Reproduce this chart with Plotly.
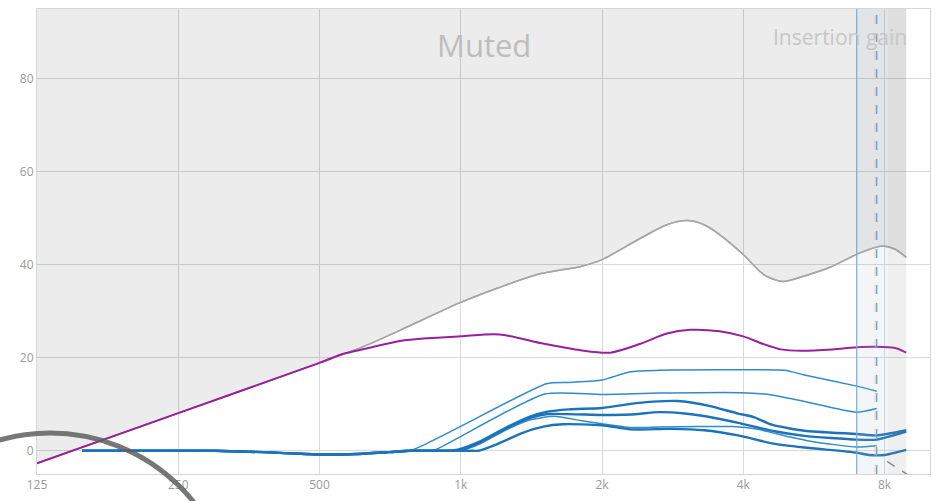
import math
import plotly.graph_objects as go

# ---- data -------------------------------------------------------------
X_TICKS = [125, 250, 500, 1000, 2000, 4000, 8000]
X_TICK_TEXT = ["125", "250", "500", "1k", "2k", "4k", "8k"]
Y_TICKS = [0, 20, 40, 60, 80]
Y_MIN, Y_MAX = -5, 95

# upper limit curve (boundary of the muted region)
limit_f = [125, 250, 500, 620, 742, 1000, 1200, 1456, 1811, 2000, 2415, 2750,
           3035, 3300, 3560, 4000, 4420, 4850, 5400, 6100, 7110, 7850, 8400, 8900]
limit_db = [-2.7, 8.1, 18.9, 22.4, 25.9, 31.9, 35.0, 37.9, 39.7, 41.1, 45.7, 48.6,
            49.5, 48.6, 46.5, 42.2, 37.9, 36.4, 37.6, 39.4, 42.6, 44.0, 43.4, 41.6]

# target gain curve
target_f = [125, 250, 500, 560, 630, 742, 850, 1000, 1210, 1505, 1800, 2085, 2415,
            2750, 3080, 3560, 4000, 4400, 4810, 5330, 6200, 7110, 7970, 8500, 8900]
target_db = [-2.7, 8.1, 18.9, 20.8, 22.0, 23.6, 24.2, 24.6, 25.0, 23.0, 21.6, 21.1,
             23.0, 25.2, 26.0, 25.7, 24.6, 23.0, 21.8, 21.5, 21.8, 22.3, 22.3, 22.0, 21.1]

# common low-frequency part of the gain curves
base_f = [156, 200, 300, 400, 500, 600, 700, 780, 850, 950, 1050]
base_db = [0, 0, 0, -0.4, -0.8, -0.7, -0.3, 0, 0, 0, 0]

gain_a_f = [780, 1523, 1700, 2000, 2300, 2650, 3600, 4900, 5400, 6980, 7700]
gain_a_db = [0, 14.4, 14.7, 15.2, 17.0, 17.3, 17.4, 17.3, 16.3, 13.9, 12.8]

gain_b_f = [881, 1510, 2000, 2650, 3950, 4600, 5400, 6980, 7700]
gain_b_db = [0.2, 12.2, 12.1, 12.4, 12.5, 12.0, 10.6, 8.3, 9.1]

gain_c_f = [990, 1100, 1250, 1400, 1530, 1700, 2000, 2400, 2900, 3400, 3900, 4200,
            4600, 5400, 6980, 7700, 8900]
gain_c_db = [0.3, 2.0, 5.0, 7.3, 8.4, 8.9, 9.2, 10.3, 10.7, 9.6, 8.0, 7.3,
             5.6, 4.3, 3.6, 3.3, 4.4]

gain_d_f = [1000, 1100, 1250, 1400, 1530, 2000, 2300, 2650, 3000, 3500, 3900, 4600,
            5400, 6980, 7700, 8900]
gain_d_db = [0.2, 1.8, 4.8, 7.0, 7.9, 7.7, 7.8, 8.3, 8.0, 7.0, 6.0, 4.3,
             3.2, 2.4, 2.4, 4.1]

gain_e_f = [1010, 1100, 1250, 1400, 1580, 1800, 2000, 2300, 2650, 3200, 3800, 4300,
            5000, 5600, 6980, 7700]
gain_e_db = [0.2, 1.5, 4.5, 6.6, 7.4, 6.5, 5.8, 5.0, 5.1, 5.2, 5.2, 4.6,
             3.0, 2.0, 0.8, 1.1]

gain_f_f = [1090, 1200, 1350, 1500, 1650, 2000, 2300, 2800, 3300, 3900, 4600, 5400,
            6980, 7400, 8000, 8900]
gain_f_db = [0, 1.5, 3.8, 5.2, 5.7, 5.5, 4.6, 4.7, 4.4, 3.3, 1.6, 0.7,
             -0.4, -0.9, -0.9, 0.2]

# diagonal guide leaving the bottom edge
guide_f = [8100, 9100]
guide_db = [-2.3, -5.6]

# channel markers
MARK_SOLID_F = 6980
MARK_DASH_F = 7700
BAND_F = [6980, 8130, 8900]

# label positions (Hz, dB)
MUTED_AT = (1120, 87.2)
GAIN_LABEL_AT = (6420, 88.9)

FONT = "Segoe UI, Open Sans, Noto Sans, sans-serif"


def with_base(fs, dbs):
    start = fs[0]
    bf = [f for f in base_f if f < start]
    bd = [d for f, d in zip(base_f, base_db) if f < start]
    return bf + fs, bd + dbs


fig = go.Figure()

# muted region above the limit curve
fig.add_trace(go.Scatter(x=limit_f, y=limit_db, mode="lines",
                         line=dict(color="#a6a6a6", width=1.5, shape="spline", smoothing=0.8),
                         hoverinfo="skip", showlegend=False))
fig.add_trace(go.Scatter(x=limit_f, y=[Y_MAX] * len(limit_f), mode="lines",
                         line=dict(width=0), fill="tonexty",
                         fillcolor="rgba(0,0,0,0.075)",
                         hoverinfo="skip", showlegend=False))
# redraw the limit line on top of its fill
fig.add_trace(go.Scatter(x=limit_f, y=limit_db, mode="lines",
                         line=dict(color="#a6a6a6", width=1.5, shape="spline", smoothing=0.8),
                         hoverinfo="skip", showlegend=False))

thin = dict(color="#2f8bcc", width=1.5)
thick = dict(color="#1b74b9", width=2.4)
for fs, dbs, style in [
    (gain_a_f, gain_a_db, thin),
    (gain_b_f, gain_b_db, thin),
    (gain_e_f, gain_e_db, thin),
    (gain_d_f, gain_d_db, thick),
    (gain_c_f, gain_c_db, thick),
    (gain_f_f, gain_f_db, thick),
]:
    x, y = with_base(fs, dbs)
    fig.add_trace(go.Scatter(x=x, y=y, mode="lines",
                             line=dict(style, shape="spline", smoothing=0.6),
                             hoverinfo="skip", showlegend=False))

fig.add_trace(go.Scatter(x=guide_f, y=guide_db, mode="lines",
                         line=dict(color="#7d8fa3", width=1.5, dash="dash"),
                         hoverinfo="skip", showlegend=False))

fig.add_trace(go.Scatter(x=target_f, y=target_db, mode="lines",
                         line=dict(color="#9a1f9d", width=2, shape="spline", smoothing=0.8),
                         hoverinfo="skip", showlegend=False))

shapes = [
    dict(type="rect", xref="x", yref="paper", x0=BAND_F[0], x1=BAND_F[1], y0=0, y1=1,
         fillcolor="rgba(165,185,205,0.13)", line=dict(width=0), layer="above"),
    dict(type="rect", xref="x", yref="paper", x0=BAND_F[1], x1=BAND_F[2], y0=0, y1=1,
         fillcolor="rgba(140,140,140,0.14)", line=dict(width=0), layer="above"),
    dict(type="line", xref="x", yref="paper", x0=MARK_SOLID_F, x1=MARK_SOLID_F, y0=0, y1=1,
         line=dict(color="#76acd9", width=1.2), layer="above"),
    dict(type="line", xref="x", yref="paper", x0=MARK_DASH_F * 0.992, x1=MARK_DASH_F * 0.992,
         y0=0, y1=1, line=dict(color="rgba(240,170,140,0.7)", width=1, dash="dash"),
         layer="above"),
    dict(type="line", xref="x", yref="paper", x0=MARK_DASH_F, x1=MARK_DASH_F, y0=0, y1=1,
         line=dict(color="#5d9dd3", width=1.2, dash="dash"), layer="above"),
    # pointer ring overlapping the lower-left corner
    dict(type="circle", xref="paper", yref="paper", x0=-0.191, x1=0.220, y0=-0.697, y1=0.088,
         line=dict(color="rgba(95,95,95,0.85)", width=5), layer="above"),
]

fig.update_layout(
    width=939, height=501,
    margin=dict(l=37, r=8, t=9, b=23),
    paper_bgcolor="white", plot_bgcolor="white",
    shapes=shapes,
    font=dict(family=FONT, color="#9a9a9a", size=12),
    annotations=[
        dict(text="Muted", xref="x", yref="y", x=math.log10(MUTED_AT[0]), y=MUTED_AT[1],
             showarrow=False, xanchor="center", yanchor="middle",
             font=dict(family=FONT, size=31, color="#bdbdbd")),
        dict(text="Insertion gain", xref="x", yref="y", x=math.log10(GAIN_LABEL_AT[0]),
             y=GAIN_LABEL_AT[1], showarrow=False, xanchor="center", yanchor="middle",
             font=dict(family=FONT, size=21, color="#c6c6c6")),
    ],
)
fig.update_xaxes(type="log", range=[2.0969, 4.0], tickvals=X_TICKS, ticktext=X_TICK_TEXT,
                 showgrid=True, gridcolor="#d9d9d9", gridwidth=1,
                 showline=True, mirror=True, linecolor="#d6d6d6", linewidth=1,
                 ticks="", zeroline=False, tickfont=dict(size=12, color="#9a9a9a"))
fig.update_yaxes(range=[Y_MIN, Y_MAX], tickvals=Y_TICKS,
                 showgrid=True, gridcolor="#d9d9d9", gridwidth=1,
                 showline=True, mirror=True, linecolor="#d6d6d6", linewidth=1,
                 ticks="", zeroline=False, tickfont=dict(size=12, color="#9a9a9a"))

fig.write_html("out.html")
